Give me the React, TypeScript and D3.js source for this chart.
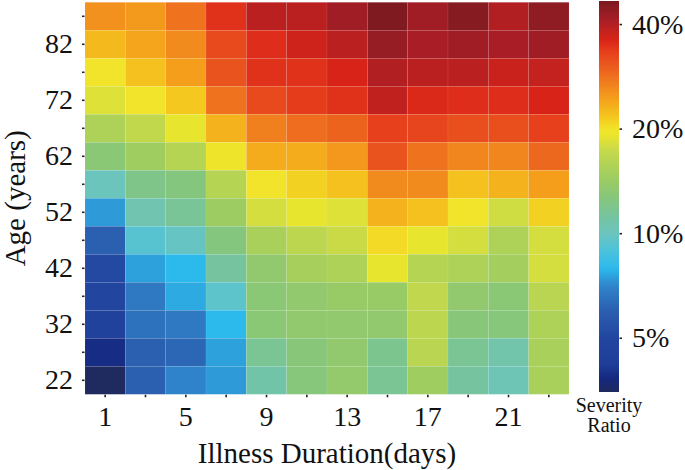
import React, { useEffect, useRef } from 'react';
import * as d3 from 'd3';

// illness duration (days) on x, age groups (years) on y
const days = [1, 3, 5, 7, 9, 11, 13, 15, 17, 19, 21, 23];
const ages = [87, 82, 77, 72, 67, 62, 57, 52, 47, 42, 37, 32, 27, 22];
const dayLabels = [1, 5, 9, 13, 17, 21];
const ageLabels = [22, 32, 42, 52, 62, 72, 82];
const ratioTicks = [5, 10, 20, 40];

// severity ratio (%) per age group, one value per duration column
const age87 = [25.5, 24.8, 28, 34.5, 39, 39, 42, 46, 42, 45, 40, 44];
const age82 = [22.5, 24, 26, 32, 35, 37, 39, 43, 41, 42, 41, 42];
const age77 = [20, 22, 24.5, 31, 34.5, 34.5, 36, 40, 39, 39, 37.5, 38];
const age72 = [18.5, 20, 21.5, 28, 32, 33.5, 34.5, 38.5, 35.5, 35, 35, 36];
const age67 = [15.5, 17, 19, 23, 27, 28.5, 29.5, 33, 32.5, 31.5, 31.5, 33];
const age62 = [13, 14.5, 16, 19.5, 23.5, 23.5, 25, 31, 28, 26.5, 26.5, 29];
const age57 = [10, 12, 12.5, 16, 20, 21, 22, 26, 26, 22, 23, 24.5];
const age52 = [7.4, 10.5, 11.5, 14.3, 18, 19, 18.5, 23, 22, 20, 17.8, 21];
const age47 = [6, 9.3, 9.8, 12.5, 15.2, 16.5, 17.5, 20.5, 19, 18, 15.5, 18];
const age42 = [5.1, 7.5, 7.9, 11.2, 13.5, 15, 15.5, 19, 16, 15.5, 14.8, 18];
const age37 = [4.9, 6.7, 7.65, 9.5, 13, 13.5, 14, 14, 16.8, 13.5, 13, 16.3];
const age32 = [4.6, 6.5, 6.7, 7.9, 13, 13.5, 13.5, 13.5, 16.5, 12.8, 12.7, 15.5];
const age27 = [3.9, 6.0, 6.2, 7.5, 11.6, 12.8, 13.5, 11.8, 16.3, 11.6, 10.7, 15.2];
const age22 = [3.5, 6.0, 7.0, 7.4, 10.8, 12.7, 13.7, 11.6, 14.5, 11.2, 10.3, 15.2];

const rows = [age87, age82, age77, age72, age67, age62, age57, age52, age47, age42, age37, age32, age27, age22];

// colormap stops (value in %, colour)
const cmapValues = [3.49, 3.83, 4.18, 5.0, 6.0, 7.1, 7.9, 8.9, 10.0, 11.0, 12.5, 14.3, 17.3, 19.2, 20, 21.5, 24.2, 28.5, 33.7, 36.0, 41.1, 46.6];
const cmapColors = ['#1f2a5e', '#15287f', '#1e3d98', '#2246a0', '#2b5fb0', '#2f86cc', '#2cbaec', '#4cc2dc', '#6cc5bd', '#74c4a4', '#84c67e', '#9ccc62', '#c6d94a', '#ece62c', '#f2e42a', '#f4c81e', '#f4a21c', '#ee6d1f', '#e53a1c', '#d82418', '#a81e26', '#7a1a20'];

interface Cell {
  age: number;
  day: number;
  value: number;
}

const font = '"Liberation Serif", "Times New Roman", serif';

const Heatmap: React.FC = () => {
  const svgRef = useRef<SVGSVGElement | null>(null);

  useEffect(() => {
    if (!svgRef.current) return;
    const svg = d3.select(svgRef.current).html('');

    const left = 85, right = 569, top = 2.3, bottom = 394.3;

    const x = d3.scaleBand<number>().domain(days).range([left, right]);
    const y = d3.scaleBand<number>().domain(ages).range([top, bottom]);
    const color = d3.scaleLog<string>().domain(cmapValues).range(cmapColors).interpolate(d3.interpolateRgb).clamp(true);

    const cells: Cell[] = [];
    rows.forEach((row, i) => row.forEach((v, j) => cells.push({ age: ages[i], day: days[j], value: v })));

    svg.append('g')
      .selectAll('rect')
      .data(cells)
      .enter()
      .append('rect')
      .attr('x', d => x(d.day)!)
      .attr('y', d => y(d.age)!)
      .attr('width', x.bandwidth())
      .attr('height', y.bandwidth())
      .attr('fill', d => color(d.value))
      .attr('stroke', 'rgba(255,255,255,0.12)')
      .attr('stroke-width', 0.6);

    // Axes
    const yAxis = d3.axisLeft(y)
      .tickSizeInner(2.5)
      .tickSizeOuter(0)
      .tickPadding(9)
      .tickFormat(d => (ageLabels.includes(d as number) ? String(d) : ''));
    svg.append('g')
      .attr('transform', `translate(${left - 0.5},0)`)
      .call(yAxis)
      .call(g => g.select('.domain').remove())
      .call(g => g.selectAll('line').attr('stroke', '#222').attr('stroke-width', 1.6))
      .selectAll('text')
      .attr('font-family', font)
      .attr('font-size', 28)
      .attr('fill', '#111');

    const xAxis = d3.axisBottom(x)
      .tickSizeInner(2.5)
      .tickSizeOuter(0)
      .tickPadding(9)
      .tickFormat(d => (dayLabels.includes(d as number) ? String(d) : ''));
    svg.append('g')
      .attr('transform', `translate(0,${bottom + 0.5})`)
      .call(xAxis)
      .call(g => g.select('.domain').remove())
      .call(g => g.selectAll('line').attr('stroke', '#222').attr('stroke-width', 1.6))
      .selectAll('text')
      .attr('font-family', font)
      .attr('font-size', 28)
      .attr('fill', '#111');

    // Titles
    svg.append('text')
      .attr('transform', `translate(25,${(top + bottom) / 2}) rotate(-90)`)
      .attr('text-anchor', 'middle')
      .attr('font-family', font)
      .attr('font-size', 29)
      .attr('fill', '#111')
      .text('Age (years)');

    svg.append('text')
      .attr('x', (left + right) / 2)
      .attr('y', 463)
      .attr('text-anchor', 'middle')
      .attr('font-family', font)
      .attr('font-size', 29)
      .attr('fill', '#111')
      .text('Illness Duration(days)');

    // Colorbar
    const cbLeft = 599, cbWidth = 20, cbTop = 1, cbBottom = 392;
    const cbScale = d3.scaleLog().domain([cmapValues[0], cmapValues[cmapValues.length - 1]]).range([cbBottom, cbTop]);

    const grad = svg.append('defs').append('linearGradient')
      .attr('id', 'cbGrad')
      .attr('x1', 0).attr('y1', 1).attr('x2', 0).attr('y2', 0);
    const [lo, hi] = cbScale.domain();
    d3.range(0, 101).forEach(i => {
      const t = i / 100;
      const v = Math.exp(Math.log(lo) + t * (Math.log(hi) - Math.log(lo)));
      grad.append('stop').attr('offset', `${t * 100}%`).attr('stop-color', color(v));
    });

    svg.append('rect')
      .attr('x', cbLeft)
      .attr('y', cbTop)
      .attr('width', cbWidth)
      .attr('height', cbBottom - cbTop)
      .attr('fill', 'url(#cbGrad)');

    const cbAxis = d3.axisRight(cbScale)
      .tickValues(ratioTicks)
      .tickSizeInner(2.5)
      .tickSizeOuter(0)
      .tickPadding(10)
      .tickFormat(d => `${d}%`);
    svg.append('g')
      .attr('transform', `translate(${cbLeft + cbWidth + 0.5},0)`)
      .call(cbAxis)
      .call(g => g.select('.domain').remove())
      .call(g => g.selectAll('line').attr('stroke', '#222').attr('stroke-width', 1.6))
      .selectAll('text')
      .attr('font-family', font)
      .attr('font-size', 28)
      .attr('fill', '#111');

    const cbTitle = svg.append('text')
      .attr('x', cbLeft + cbWidth / 2)
      .attr('text-anchor', 'middle')
      .attr('font-family', font)
      .attr('font-size', 20)
      .attr('fill', '#111');
    cbTitle.append('tspan').attr('x', cbLeft + cbWidth / 2).attr('y', 412).text('Severity');
    cbTitle.append('tspan').attr('x', cbLeft + cbWidth / 2).attr('y', 432).text('Ratio');
  }, []);

  return (
    <svg
      ref={svgRef}
      width={685}
      height={470}
      style={{ position: 'absolute', left: 0, top: 0, background: '#fff' }}
    />
  );
};

export default function App() {
  return <Heatmap />;
}
